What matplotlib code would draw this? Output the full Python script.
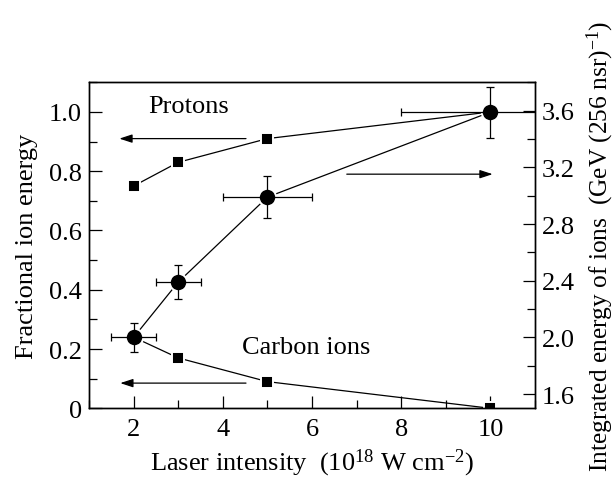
#!/usr/bin/env python3
import matplotlib
matplotlib.use("Agg")
import matplotlib.pyplot as plt
from matplotlib.ticker import MultipleLocator, FuncFormatter

# laser intensity (10^18 W cm^-2)
intensity = [2, 3, 5, 10]
intensity_err = [0.5, 0.5, 1.0, 2.0]

# fractional ion energy (left axis)
proton_frac = [0.75, 0.83, 0.91, 1.0]
carbon_frac = [0.24, 0.17, 0.09, 0.0]

# integrated energy of ions, GeV (256 nsr)^-1 (right axis)
ion_energy = [2.0, 2.39, 2.99, 3.59]
ion_energy_err = [0.10, 0.12, 0.15, 0.18]

plt.rcParams['font.family'] = ['Liberation Serif', 'DejaVu Serif']
plt.rcParams['mathtext.fontset'] = 'custom'
plt.rcParams['mathtext.rm'] = 'Liberation Serif'
plt.rcParams['mathtext.default'] = 'regular'
FS = 19

fig = plt.figure(figsize=(6.16, 4.81), dpi=100)
ax = fig.add_axes([89 / 616, 1 - 409.3 / 481, 446 / 616, 326 / 481])
ax2 = ax.twinx()

# square series (left axis)
for frac in (proton_frac, carbon_frac):
    ax.plot(intensity, frac, color='black', lw=0.9, zorder=1)
    ax.plot(intensity, frac, ls='none', marker='s', ms=8.5, mfc='black',
            mec='white', mew=1.4, zorder=2)

# arrows pointing to the axes
arr = dict(arrowstyle='-|>,head_length=0.55,head_width=0.18', color='black',
           lw=0.9, mutation_scale=14, shrinkA=0, shrinkB=0)
ax.annotate('', xy=(1.68, 0.91), xytext=(4.52, 0.91), arrowprops=arr)
ax.annotate('', xy=(1.70, 0.085), xytext=(4.52, 0.085), arrowprops=arr)
ax.annotate('', xy=(10.05, 0.79), xytext=(6.78, 0.79), arrowprops=arr)

ax.text(2.32, 1.02, 'Protons', fontsize=FS, va='center', ha='left')
ax.text(4.43, 0.206, 'Carbon ions', fontsize=FS, va='center', ha='left')

# circle series (right axis)
ax2.plot(intensity, ion_energy, color='black', lw=0.9, zorder=1)
ax2.plot(intensity, ion_energy, ls='none', marker='o', ms=12.5, mfc='black',
         mec='white', mew=1.4, zorder=2)
ax2.errorbar(intensity, ion_energy, xerr=intensity_err, yerr=ion_energy_err,
             fmt='none', ecolor='black', elinewidth=0.9, capsize=3,
             capthick=0.9, zorder=3)

ax.set_xlim(1, 11)
ax.set_ylim(0, 1.1)
ax2.set_ylim(1.5, 3.8)

ax.xaxis.set_major_locator(MultipleLocator(2))
ax.xaxis.set_minor_locator(MultipleLocator(1))
ax.yaxis.set_major_locator(MultipleLocator(0.2))
ax.yaxis.set_minor_locator(MultipleLocator(0.1))
ax.yaxis.set_major_formatter(FuncFormatter(lambda v, p: '0' if abs(v) < 1e-9 else f'{v:.1f}'))
ax2.yaxis.set_major_locator(MultipleLocator(0.4))
ax2.yaxis.set_minor_locator(MultipleLocator(0.2))
ax2.yaxis.set_major_formatter(FuncFormatter(lambda v, p: f'{v:.1f}'))
ax2.set_yticks([1.6, 2.0, 2.4, 2.8, 3.2, 3.6])

for a in (ax, ax2):
    a.tick_params(which='major', direction='in', length=9, width=0.9,
                  labelsize=FS, pad=5)
    a.tick_params(which='minor', direction='in', length=6, width=0.9)
    for s in a.spines.values():
        s.set_linewidth(1.0)
ax.tick_params(axis='x', which='major', pad=7)
ax.tick_params(top=False, right=False, which='both')

ax.set_xlabel(r'Laser intensity  (10$^{18}$ W cm$^{-2}$)', fontsize=FS, labelpad=5)
ax.set_ylabel('Fractional ion energy', fontsize=FS, labelpad=8)
ax2.set_ylabel(r'Integrated energy of ions  (GeV (256 nsr)$^{-1}$)',
               fontsize=18.3, labelpad=7)

fig.savefig('out.png', dpi=100)
